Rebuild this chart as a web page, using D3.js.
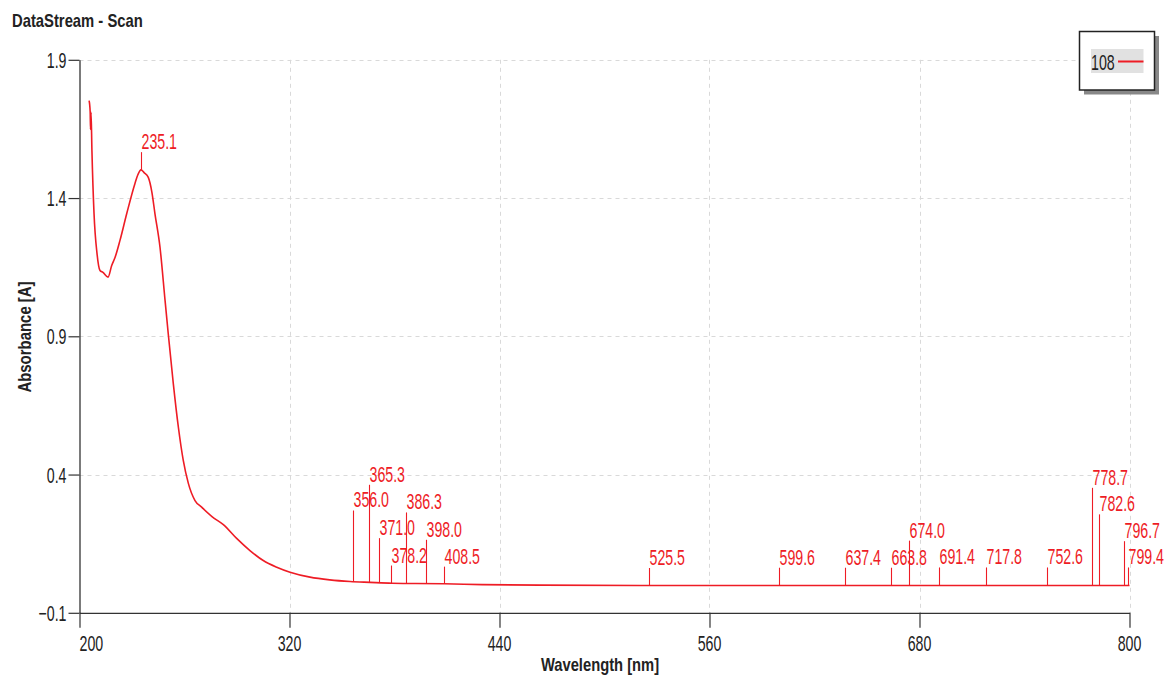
<!DOCTYPE html>
<html>
<head>
<meta charset="utf-8">
<script src="https://cdn.jsdelivr.net/npm/d3@7"></script>
<style>
  html, body { margin: 0; padding: 0; background: #fff; }
  svg { display: block; }
  text { font-family: "Liberation Sans", Arial, sans-serif; }
</style>
</head>
<body>
<svg id="chart" width="1166" height="678"></svg>
<script>
// Absorbance scan (nm, A)
const wavelength = [205.5, 206.1, 206.3, 206.6, 207.1, 208.3, 210.0, 211.7, 213.4, 216.3, 218.4, 220.3, 223.1, 227.0, 231.7, 233.4, 235.1, 236.9, 239.3, 241.4, 243.1, 246.0, 248.9, 250.7, 253.6, 256.5, 259.3, 262.2, 266.0, 269.8, 275.7, 282.2, 289.8, 297.4, 305.0, 312.7, 320.3, 331.7, 343.0, 354.6, 366.0, 378.6, 392.0, 408.3, 430.0, 463.0, 520.0, 600.0, 700.0, 800.0];
const absorbance = [1.752, 1.712, 1.648, 1.710, 1.572, 1.344, 1.200, 1.138, 1.131, 1.114, 1.156, 1.185, 1.246, 1.344, 1.453, 1.485, 1.502, 1.492, 1.475, 1.420, 1.344, 1.222, 1.029, 0.910, 0.729, 0.571, 0.451, 0.368, 0.306, 0.282, 0.248, 0.219, 0.169, 0.125, 0.089, 0.065, 0.047, 0.029, 0.019, 0.013, 0.010, 0.007, 0.006, 0.005, 0.002, 0.000, -0.001, -0.001, -0.001, -0.001];

// Peak picks: wavelength and height of the marker top (A)
const peakNm  = [235.1, 356.0, 365.3, 371.0, 378.2, 386.3, 398.0, 408.5, 525.5, 599.6, 637.4, 663.8, 674.0, 691.4, 717.8, 752.6, 778.7, 782.6, 796.7, 799.4];
const peakTop = [1.566, 0.270, 0.363, 0.170, 0.071, 0.263, 0.164, 0.067, 0.062, 0.063, 0.063, 0.063, 0.161, 0.064, 0.064, 0.064, 0.352, 0.256, 0.159, 0.064];

const xTicks = [200, 320, 440, 560, 680, 800];
const yTicks = [-0.1, 0.4, 0.9, 1.4, 1.9];
const seriesName = "108";

const red = "#ee1c25";
const ink = "#222";
const narrow = 0.645;   // horizontal squeeze for the condensed label face
const labelSize = 22;
const svg = d3.select("#chart");

const x = d3.scaleLinear().domain([200, 800]).range([79.5, 1129.5]);
const y = d3.scaleLinear().domain([-0.1, 1.9]).range([612.8, 59.8]);

// Title
svg.append("text")
  .attr("transform", "translate(12,27) scale(0.8,1)")
  .attr("font-weight", "bold").attr("font-size", 18.5).attr("fill", ink)
  .text("DataStream - Scan");

// Grid
const grid = svg.append("g").attr("stroke", "#d9d9d9").attr("stroke-dasharray", "4,4").attr("stroke-width", 1);
grid.selectAll("line.v").data(xTicks.slice(1)).join("line")
  .attr("x1", d => Math.round(x(d)) + 0.5).attr("x2", d => Math.round(x(d)) + 0.5)
  .attr("y1", y(1.9)).attr("y2", y(-0.1));
grid.selectAll("line.h").data(yTicks.slice(1)).join("line")
  .attr("y1", d => Math.round(y(d)) + 0.5).attr("y2", d => Math.round(y(d)) + 0.5)
  .attr("x1", x(200)).attr("x2", x(800));

// Axes (lines and ticks from d3, labels drawn separately with the narrow face)
const xAxis = svg.append("g")
  .attr("transform", `translate(0,${y(-0.1)})`)
  .call(d3.axisBottom(x).tickValues(xTicks).tickSize(15).tickSizeOuter(0).tickFormat(""));
const yAxis = svg.append("g")
  .attr("transform", `translate(${x(200)},0)`)
  .call(d3.axisLeft(y).tickValues(yTicks).tickSize(11).tickSizeOuter(0).tickFormat(""));
[xAxis, yAxis].forEach(a => {
  a.select(".domain").attr("stroke", "#333").attr("stroke-width", 1.3);
  a.selectAll(".tick line").attr("stroke", "#333").attr("stroke-width", 1.2);
});

svg.append("g").selectAll("text").data(xTicks).join("text")
  .attr("transform", d => `translate(${x(d)},${y(-0.1) + 38.5}) scale(${narrow},1)`)
  .attr("text-anchor", d => d === 200 ? "start" : "middle")
  .attr("font-size", labelSize).attr("fill", ink)
  .text(d3.format("d"));
svg.append("g").selectAll("text").data(yTicks).join("text")
  .attr("transform", d => `translate(${x(200) - 13},${y(d) + 8}) scale(${narrow},1)`)
  .attr("text-anchor", "end")
  .attr("font-size", labelSize).attr("fill", ink)
  .text(d3.format(".1f"));

// Axis titles
svg.append("text")
  .attr("transform", "translate(600,671) scale(0.82,1)").attr("text-anchor", "middle")
  .attr("font-weight", "bold").attr("font-size", 18).attr("fill", ink)
  .text("Wavelength [nm]");
svg.append("text")
  .attr("transform", "translate(31,337) rotate(-90) scale(0.83,1)").attr("text-anchor", "middle")
  .attr("font-weight", "bold").attr("font-size", 18).attr("fill", ink)
  .text("Absorbance [A]");

// Curve
const pts = wavelength.map((w, i) => [w, absorbance[i]]);
svg.append("path")
  .datum(pts)
  .attr("fill", "none").attr("stroke", red).attr("stroke-width", 1.6)
  .attr("d", d3.line().x(d => x(d[0])).y(d => y(d[1])).curve(d3.curveMonotoneX));

// Interpolated curve value at a given wavelength
const bis = d3.bisector(d => d[0]).left;
function curveAt(w) {
  const i = Math.max(1, Math.min(pts.length - 1, bis(pts, w)));
  const a = pts[i - 1], b = pts[i];
  return a[1] + (b[1] - a[1]) * (w - a[0]) / (b[0] - a[0]);
}

// Peak markers and labels
const peaks = peakNm.map((w, i) => ({ w, top: peakTop[i], base: curveAt(w) }));
const pg = svg.append("g");
pg.selectAll("line").data(peaks).join("line")
  .attr("x1", d => Math.round(x(d.w)) + 0.5).attr("x2", d => Math.round(x(d.w)) + 0.5)
  .attr("y1", d => y(d.base)).attr("y2", d => y(d.top))
  .attr("stroke", red).attr("stroke-width", 1.1);
pg.selectAll("text").data(peaks).join("text")
  .attr("transform", d => `translate(${Math.round(x(d.w)) + 0.5},${y(d.top) - 3}) scale(${narrow},1)`)
  .attr("font-size", labelSize).attr("fill", red)
  .text(d => d3.format(".1f")(d.w));

// Legend
const lg = svg.append("g");
lg.append("rect").attr("x", 1084).attr("y", 36).attr("width", 75).attr("height", 58.5).attr("fill", "#888");
lg.append("rect").attr("x", 1079.5).attr("y", 31.5).attr("width", 75).attr("height", 58.5)
  .attr("fill", "#fff").attr("stroke", ink).attr("stroke-width", 1.5);
lg.append("rect").attr("x", 1091).attr("y", 49).attr("width", 52.5).attr("height", 24).attr("fill", "#e1e1e1");
lg.append("text").attr("transform", `translate(1091,69.5) scale(${narrow},1)`).attr("font-size", labelSize).attr("fill", ink).text(seriesName);
lg.append("line").attr("x1", 1118).attr("x2", 1143.5).attr("y1", 61.5).attr("y2", 61.5).attr("stroke", red).attr("stroke-width", 2);
</script>
</body>
</html>
